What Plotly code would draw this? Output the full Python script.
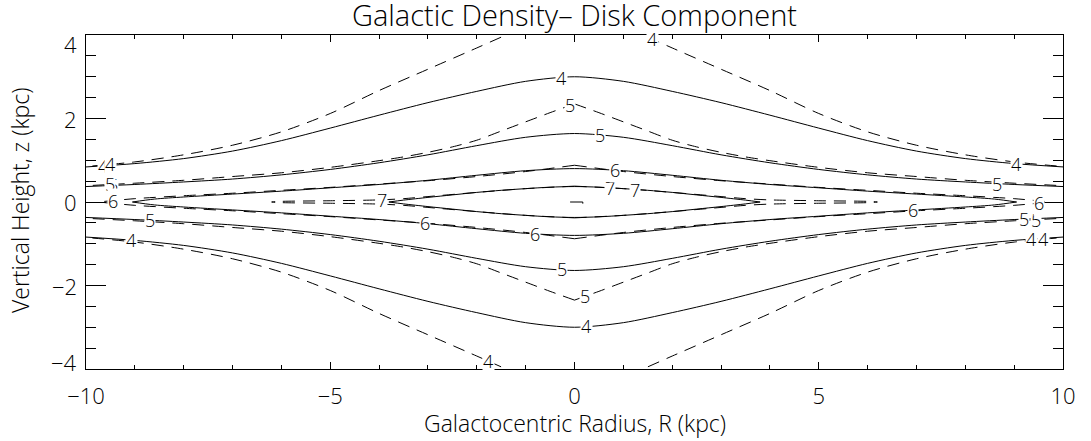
import numpy as np
import plotly.graph_objects as go

# Log10 density contours of the galactic disk, traced in the R >= 0, z >= 0
# quadrant (kpc). Both models are symmetric in R and z.
LEVELS = [4, 5, 6, 7]

# Solid model
R_SOLID_4 = [0, 1, 2, 3, 4, 5, 6, 7, 8, 9, 10]
Z_SOLID_4 = [3.00, 2.89, 2.65, 2.38, 2.08, 1.77, 1.47, 1.22, 1.04, 0.92, 0.84]
R_SOLID_5 = [0, 1, 2, 3, 4, 5, 6, 7, 8, 9, 10]
Z_SOLID_5 = [1.64, 1.55, 1.35, 1.13, 0.94, 0.78, 0.65, 0.55, 0.48, 0.42, 0.37]
R_SOLID_6 = [0, 1, 2, 3, 4, 5, 6, 7, 8, 8.6, 9.05]
Z_SOLID_6 = [0.80, 0.75, 0.64, 0.52, 0.42, 0.34, 0.26, 0.19, 0.12, 0.07, 0.0]
R_SOLID_7 = [0, 0.5, 1, 1.5, 2, 2.5, 3, 3.5, 3.8]
Z_SOLID_7 = [0.37, 0.355, 0.32, 0.28, 0.23, 0.17, 0.11, 0.045, 0.0]
R_SOLID_8 = [-0.09, 0.17, 0.17]
Z_SOLID_8 = [0.0, 0.0, -0.04]

# Dashed model
R_DASH_4 = [0, 1.4, 2, 3, 4, 5, 6, 7, 8, 9, 10]
Z_DASH_4 = [4.70, 4.00, 3.69, 3.18, 2.67, 2.12, 1.68, 1.36, 1.13, 0.96, 0.85]
R_DASH_5 = [0, 0.5, 1, 1.5, 2, 2.5, 3, 3.5, 4, 5, 6, 7, 8, 9, 10]
Z_DASH_5 = [2.35, 2.14, 1.92, 1.70, 1.48, 1.32, 1.19, 1.08, 0.99, 0.83, 0.70,
            0.61, 0.52, 0.45, 0.39]
R_DASH_6 = [0, 1, 2, 3, 4, 5, 6, 7, 8, 9, 9.75]
Z_DASH_6 = [0.88, 0.73, 0.61, 0.51, 0.43, 0.35, 0.28, 0.21, 0.15, 0.08, 0.0]
R_DASH_7 = [0, 1, 2, 3, 3.5, 4, 5, 6, 6.2]
Z_DASH_7 = [0.38, 0.32, 0.23, 0.13, 0.08, 0.05, 0.03, 0.015, 0.0]

SOLID = {4: (R_SOLID_4, Z_SOLID_4), 5: (R_SOLID_5, Z_SOLID_5),
         6: (R_SOLID_6, Z_SOLID_6), 7: (R_SOLID_7, Z_SOLID_7)}
DASHED = {4: (R_DASH_4, Z_DASH_4), 5: (R_DASH_5, Z_DASH_5),
          6: (R_DASH_6, Z_DASH_6), 7: (R_DASH_7, Z_DASH_7)}

# Contour labels: (model, level, half, R)
LABELS = [
    ("solid", 4, 1, -9.65), ("solid", 4, 1, -0.26), ("solid", 4, 1, 9.05),
    ("solid", 4, -1, -9.07), ("solid", 4, -1, 0.25), ("solid", 4, -1, 9.35),
    ("solid", 5, 1, -9.45), ("solid", 5, 1, 0.52), ("solid", 5, 1, 8.64),
    ("solid", 5, -1, -8.69), ("solid", 5, -1, -0.26), ("solid", 5, -1, 9.2),
    ("solid", 6, 1, 0.83), ("solid", 6, -1, -0.81), ("solid", 6, -1, 6.93),
    ("solid", 7, 1, 0.73),
    ("dash", 4, 1, -9.5), ("dash", 4, 1, 1.6), ("dash", 4, -1, -1.77),
    ("dash", 4, -1, 9.6),
    ("dash", 5, 1, -9.5), ("dash", 5, 1, -0.09), ("dash", 5, -1, 0.21),
    ("dash", 5, -1, 9.45),
    ("dash", 6, 1, -9.45), ("dash", 6, 1, 0.83), ("dash", 6, -1, -3.06),
    ("dash", 6, -1, 9.5),
    ("dash", 7, 1, 1.24), ("dash", 7, 1, -3.94),
]

Y_TICKS = [-4, -2, 0, 2, 4]
Y_TICK_TEXT = ["\u22124", "\u22122", "0", "2", "4"]
X_TICKS = [-10, -5, 0, 5, 10]

FONT = "Open Sans"
WEIGHT = 300
INK = "#000000"


def branches(r, z, split_center):
    """Upper and lower branches of a contour that is symmetric in R and z."""
    r = np.asarray(r, float)
    z = np.asarray(z, float)
    full_r = np.concatenate([-r[::-1], r[1:]])
    full_z = np.concatenate([z[::-1], z[1:]])
    out = []
    for s in (1, -1):
        if split_center:
            out.append(((-r).tolist(), (s * z).tolist()))
            out.append((r.tolist(), (s * z).tolist()))
        else:
            out.append((full_r.tolist(), (s * full_z).tolist()))
    return out


fig = go.Figure()

for table, dash, split in ((SOLID, "solid", False), (DASHED, "12px,8px", True)):
    for lev in LEVELS:
        r, z = table[lev]
        for xs, ys in branches(r, z, split):
            fig.add_trace(go.Scatter(x=xs, y=ys, mode="lines",
                                     line=dict(color=INK, width=1, dash=dash,
                                               shape="spline", smoothing=0.8),
                                     hoverinfo="skip", showlegend=False))

fig.add_trace(go.Scatter(x=R_SOLID_8, y=Z_SOLID_8, mode="lines",
                         line=dict(color=INK, width=1),
                         hoverinfo="skip", showlegend=False))

for model, lev, half, rpos in LABELS:
    r, z = (SOLID if model == "solid" else DASHED)[lev]
    zpos = half * float(np.interp(abs(rpos), r, z))
    fig.add_annotation(x=rpos, y=zpos, text=str(lev), showarrow=False,
                       font=dict(family=FONT, size=18, color=INK, weight=WEIGHT),
                       bgcolor="white", borderpad=0)

# y tick labels; the end labels sit just inside the frame
for val, txt in zip(Y_TICKS, Y_TICK_TEXT):
    shift = -9 if val == max(Y_TICKS) else (7 if val == min(Y_TICKS) else 0)
    fig.add_annotation(xref="paper", x=0, y=val, text=txt, showarrow=False,
                       xanchor="right", yanchor="middle", xshift=-7, yshift=shift,
                       font=dict(family=FONT, size=22, color=INK, weight=WEIGHT))

axis_common = dict(showgrid=False, zeroline=False, showline=True,
                   linecolor=INK, linewidth=1, mirror="ticks",
                   ticks="inside", tickcolor=INK, tickwidth=1)

fig.update_xaxes(range=[-10, 10], tickvals=X_TICKS, ticklen=7,
                 ticklabelstandoff=8,
                 tickfont=dict(family=FONT, size=22, color=INK, weight=WEIGHT),
                 minor=dict(ticks="inside", dtick=1, ticklen=4, tickcolor=INK),
                 **axis_common)
fig.update_yaxes(range=[-4, 4], tickvals=Y_TICKS, ticklen=20, showticklabels=False,
                 minor=dict(ticks="inside", dtick=0.5, ticklen=10, tickcolor=INK),
                 **axis_common)

fig.add_annotation(xref="paper", yref="paper", x=0.5, y=-0.162,
                   xanchor="center", yanchor="middle",
                   text="Galactocentric Radius, R (kpc)", showarrow=False,
                   font=dict(family=FONT, size=23, color=INK, weight=WEIGHT))
fig.add_annotation(xref="paper", yref="paper", x=-0.0676, y=0.506,
                   xanchor="center", yanchor="middle",
                   text="Vertical Height, z (kpc)", showarrow=False, textangle=-90,
                   font=dict(family=FONT, size=23, color=INK, weight=WEIGHT))

fig.update_layout(
    width=1091, height=441,
    margin=dict(l=86, r=28, t=35, b=72),
    paper_bgcolor="white", plot_bgcolor="white",
    showlegend=False,
    title=dict(text="Galactic Density\u2013 Disk Component", x=0.5, xref="paper",
               xanchor="center", y=1 - 16 / 441, yref="container", yanchor="middle",
               font=dict(family=FONT, size=29, color=INK, weight=WEIGHT)),
)

fig.write_html("out.html")
